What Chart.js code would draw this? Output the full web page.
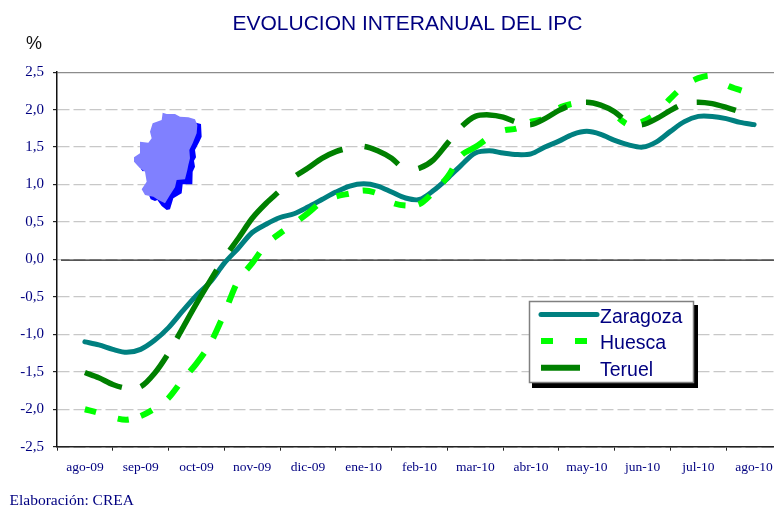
<!DOCTYPE html>
<html><head><meta charset="utf-8">
<style>html,body{margin:0;padding:0;background:#fff;overflow:hidden;width:774px;height:506px}
#w{position:absolute;left:0;top:0;width:815px;height:506px}</style>
<script src="https://cdn.jsdelivr.net/npm/chart.js@4"></script>
</head><body><div id="w"><canvas id="c" width="815" height="506"></canvas></div>
<script>
const months=['ago-09','sep-09','oct-09','nov-09','dic-09','ene-10','feb-10','mar-10','abr-10','may-10','jun-10','jul-10','ago-10'];
const yTicks=[2.5,2,1.5,1,0.5,0,-0.5,-1,-1.5,-2,-2.5];
const zaragoza=[-1.10,-1.14,-1.20,-1.24,-1.20,-1.08,-0.91,-0.69,-0.48,-0.30,-0.05,0.15,0.36,0.47,0.56,0.61,0.70,0.80,0.90,0.98,1.01,0.98,0.90,0.82,0.80,0.92,1.08,1.26,1.42,1.45,1.42,1.40,1.41,1.50,1.58,1.67,1.71,1.67,1.59,1.53,1.50,1.57,1.71,1.84,1.91,1.91,1.88,1.83,1.80];
const huesca=[-2.00,-2.05,-2.11,-2.14,-2.09,-1.99,-1.85,-1.61,-1.39,-1.12,-0.72,-0.28,-0.05,0.20,0.35,0.48,0.62,0.77,0.84,0.88,0.92,0.88,0.76,0.72,0.74,0.90,1.10,1.39,1.50,1.63,1.72,1.75,1.84,1.88,2.02,2.08,2.10,2.06,1.93,1.80,1.84,1.95,2.15,2.32,2.42,2.45,2.33,2.26,2.20];
const teruel=[-1.51,-1.58,-1.67,-1.72,-1.70,-1.52,-1.25,-0.92,-0.59,-0.28,0.02,0.28,0.55,0.75,0.92,1.10,1.22,1.35,1.44,1.49,1.51,1.45,1.35,1.20,1.22,1.33,1.55,1.77,1.91,1.93,1.90,1.83,1.80,1.88,1.99,2.07,2.10,2.06,1.97,1.83,1.80,1.88,1.99,2.08,2.10,2.08,2.03,1.97,1.90];
const samplePos=[0,.25,.5,.75,1,1.25,1.5,1.75,2,2.25,2.5,2.75,3,3.25,3.5,3.75,4,4.25,4.5,4.75,5,5.25,5.5,5.75,6,6.25,6.5,6.75,7,7.25,7.5,7.75,8,8.25,8.5,8.75,9,9.25,9.5,9.75,10,10.25,10.5,10.75,11,11.25,11.5,11.75,12];
// Dash on/off boundaries (style only): horizontal pixel where each dash starts and ends.
const huescaDashEdges=[85,96,118,129,141,152,168,178,190,204,213,221,229,236,247,260,274,284,300,317,337,349,363,375,395,406,419,430,443,453,463,485,506,517,531,542,560,572,620,627,642,652,668,678,695,709,730,743];
const teruelDashEdges=[85,122,141,167,177,217,230,278,297,343,365,399,419,450,463,515,531,568,587,623,643,679,698,737];
const mapBack=[[228,68],[243,72],[245,110],[238,125],[225,150],[228,172],[222,182],[225,200],[218,215],[217,253],[188,253],[185,280],[160,295],[150,328],[140,330],[125,318],[112,300],[105,303],[92,298],[88,288],[150,200],[62,206],[68,214],[150,200],[150,100]];
const mapFront=[[128,38],[140,42],[165,42],[180,50],[205,52],[225,58],[232,75],[230,100],[218,130],[208,150],[210,175],[205,195],[202,210],[195,238],[170,240],[165,262],[150,285],[135,310],[115,300],[100,290],[75,285],[65,268],[80,245],[75,215],[60,205],[42,185],[42,172],[60,160],[60,125],[85,128],[95,115],[90,95],[98,70],[125,60]];
const NAVY='#000080',TEAL='#008080',LIME='#00ff00',DARK='#008000';
const PX_X=55.77,PX_Y=74.9,X0=84.9;
const pts=a=>a.map((v,i)=>({x:samplePos[i],y:v}));
function arcAt(vals,px){let len=0;for(let i=1;i<vals.length;i++){const ax=X0+samplePos[i-1]*PX_X,bx=X0+samplePos[i]*PX_X,dy=(vals[i]-vals[i-1])*PX_Y,seg=Math.hypot(bx-ax,dy);
  if(px<=bx)return len+seg*Math.max(0,px-ax)/(bx-ax);len+=seg;}return len;}
function dashPattern(vals,edges){const out=[];for(let i=1;i<edges.length;i++)out.push(arcAt(vals,edges[i])-arcAt(vals,edges[i-1]));out.push(500);return out;}
function poly(ctx,p,col){ctx.fillStyle=col;ctx.beginPath();p.forEach((q,i)=>i?ctx.lineTo(q[0],q[1]):ctx.moveTo(q[0],q[1]));ctx.closePath();ctx.fill();}
const decor={id:'decor',
 beforeDraw(ch){ch.titleBlock.left=33;},
 beforeDatasetsDraw(ch){const c=ch.ctx,y0=ch.scales.y.getPixelForValue(0);c.save();
  c.strokeStyle='#222';c.lineWidth=1.3;c.beginPath();c.moveTo(61,y0+0.7);c.lineTo(ch.chartArea.right,y0+0.7);c.stroke();
  c.translate(120,100);c.scale(1/3,1/3);poly(c,mapBack,'#0000ff');poly(c,mapFront,'#8080ff');c.restore();},
 afterDraw(ch){const c=ch.ctx;c.save();
  c.fillStyle='#000';c.fillRect(532,305,166,83);
  c.fillStyle='#fff';c.strokeStyle='#808080';c.lineWidth=1.5;c.fillRect(529.5,301.5,164,81);c.strokeRect(529.5,301.5,164,81);
  c.lineCap='round';c.lineWidth=5;c.strokeStyle=TEAL;c.beginPath();c.moveTo(541,314.5);c.lineTo(597,314.5);c.stroke();
  c.lineCap='butt';c.lineWidth=6;c.strokeStyle=LIME;c.beginPath();c.moveTo(541,341);c.lineTo(553,341);c.moveTo(575,341);c.lineTo(587,341);c.stroke();
  c.strokeStyle=DARK;c.beginPath();c.moveTo(541,367.7);c.lineTo(580,367.7);c.stroke();
  c.fillStyle=NAVY;c.font='19.5px "Liberation Sans"';c.textAlign='left';c.textBaseline='alphabetic';
  const ys=[323,349,376];ch.data.datasets.forEach((d,i)=>c.fillText(d.label,600,ys[i]));
  c.fillStyle='#111';c.font='18px "Liberation Sans"';c.fillText('%',26,49);
  c.fillStyle=NAVY;c.font='15.5px "Liberation Serif"';c.fillText('Elaboración: CREA',9.5,505);
  c.restore();}};
new Chart(document.getElementById('c'),{type:'line',
 data:{labels:months,datasets:[
  {label:'Zaragoza',data:pts(zaragoza),borderColor:TEAL,borderWidth:5,borderCapStyle:'round',order:3,xAxisID:'xf'},
  {label:'Huesca',data:pts(huesca),borderColor:LIME,borderWidth:6,borderDash:dashPattern(huesca,huescaDashEdges),order:2,xAxisID:'xf'},
  {label:'Teruel',data:pts(teruel),borderColor:DARK,borderWidth:5.5,borderDash:dashPattern(teruel,teruelDashEdges),order:1,xAxisID:'xf'}]},
 options:{responsive:false,animation:false,events:[],
  layout:{padding:{left:0,right:33,top:0,bottom:0}},
  elements:{point:{radius:0},line:{tension:0.3,borderJoinStyle:'round'}},
  plugins:{legend:{display:false},tooltip:{enabled:false},
   title:{display:true,text:'EVOLUCION INTERANUAL DEL IPC',color:NAVY,font:{family:'"Liberation Sans"',size:21,weight:'normal'},padding:{top:12,bottom:35}}},
  scales:{
   xf:{type:'linear',display:false,min:-0.5,max:12.5},
   x:{type:'category',offset:true,
      grid:{offset:true,drawOnChartArea:false,drawTicks:true,tickLength:4,tickColor:'#222'},
      border:{color:'#222',width:1.5},
      ticks:{color:NAVY,font:{family:'"Liberation Serif"',size:13.5},maxRotation:0,autoSkip:false,padding:9},
      afterFit(s){s.height=59.3;}},
   y:{min:-2.5,max:2.5,
      afterBuildTicks(s){s.ticks=yTicks.map(v=>({value:v}));},
      afterFit(s){s.width=57;},
      grid:{color:c=>c.tick&&c.tick.value===2.5?'#8c8c8c':(c.tick&&c.tick.value===-2.5?'#222':'#c8c8c8'),lineWidth:1.2,tickLength:4,tickColor:'#222'},
      border:{color:'#111',width:1.5,dash:c=>c.tick&&c.tick.value===2.5?[]:[12,4]},
      ticks:{color:NAVY,font:{family:'"Liberation Serif"',size:15},padding:9,callback:v=>v.toFixed(1).replace('.',',')}}
  }},
 plugins:[decor]});
</script></body></html>
